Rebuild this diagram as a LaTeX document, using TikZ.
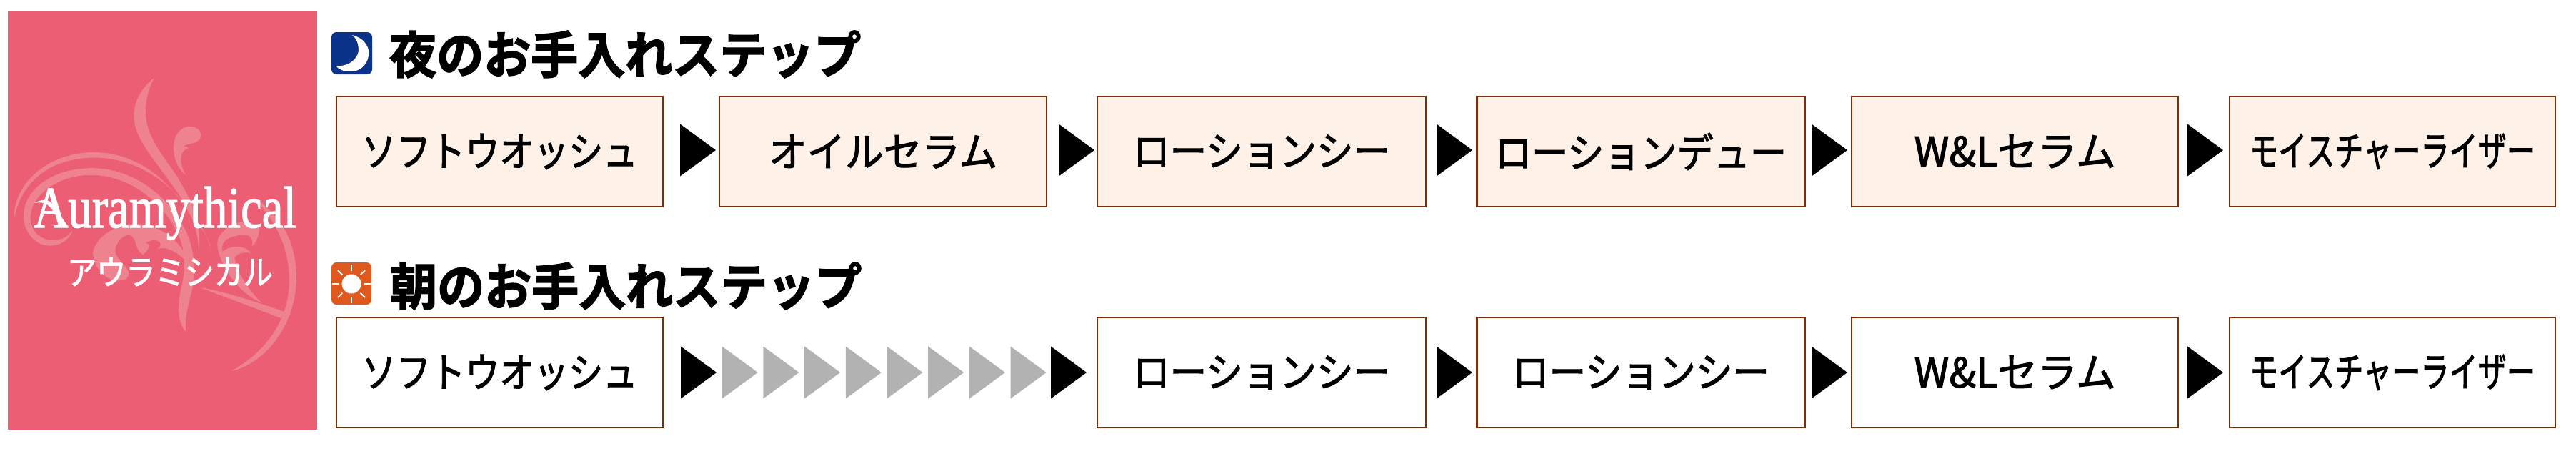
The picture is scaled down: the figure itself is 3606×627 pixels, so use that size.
\documentclass[tikz,border=0pt]{standalone}
\usepackage{fontspec}
\setmainfont{Liberation Serif}
\newfontfamily\cjk[FakeBold=2]{Noto Sans CJK JP}
\newfontfamily\cjkh[FakeBold=2.4]{Noto Sans CJK JP Bold}
\newfontfamily\cjkm[FakeBold=2]{Noto Sans CJK JP}
\newfontfamily\logofont[FakeBold=1.6]{Liberation Serif}
\definecolor{pinkbg}{HTML}{EB5E74}
\definecolor{pinklt}{HTML}{EE828F}
\definecolor{edgec}{HTML}{7A2E0A}
\definecolor{cream}{HTML}{FDF1E8}
\definecolor{moonc}{HTML}{0B3289}
\definecolor{sunc}{HTML}{DF581E}
\definecolor{grayar}{HTML}{B2B2B2}
\newcommand{\wtext}[2]{\resizebox{#1pt}{\height}{\cjkm\fontsize{57pt}{57pt}\selectfont #2}}
\newcommand{\arrowtri}[3]{\fill[#3] (#1,#2-36.5) -- (#1+50,#2) -- (#1,#2+36.5) -- cycle;}
\tikzset{
  stepbox/.style={draw=edgec,line width=2.6pt,rectangle,inner sep=0pt,minimum height=154pt,text=black},
  nightbox/.style={stepbox,fill=cream},
  daybox/.style={stepbox,fill=white},
  heading/.style={inner sep=0pt,text=black},
  flourish/.style={fill=pinklt,draw=none}
}
\begin{document}
\begin{tikzpicture}[x=1pt,y=-1pt]
\useasboundingbox (0,0) rectangle (3606,627);
\fill[white] (0,0) rectangle (3606,627);
% panel
\fill[pinkbg] (11,16) rectangle (444,601);
\begin{scope}[xscale=0.33333,yscale=0.4]
\fill[flourish] (650,270) .. controls (590,310) and (560,360) .. (562,410) .. controls (565,480) and (640,550) .. (700,620) .. controls (770,700) and (830,770) .. (835,875) .. controls (850,780) and (800,690) .. (730,600) .. controls (670,530) and (615,470) .. (612,400) .. controls (610,350) and (625,305) .. (650,270) -- cycle;
\fill[flourish] (780,612) .. controls (745,590) and (725,550) .. (730,505) .. controls (735,460) and (770,440) .. (805,442) .. controls (835,445) and (855,470) .. (838,488) .. controls (820,505) and (790,500) .. (770,512) .. controls (785,512) and (795,515) .. (790,518) .. controls (760,525) and (745,560) .. (780,612) -- cycle;
\fill[flourish] (60,762) .. controls (55,660) and (170,545) .. (370,533) .. controls (560,525) and (700,620) .. (790,740) .. controls (850,800) and (880,830) .. (885,875) .. controls (870,800) and (800,740) .. (740,680) .. controls (640,590) and (500,545) .. (370,552) .. controls (200,560) and (90,640) .. (60,762) -- cycle;
\fill[flourish] (305,805) .. controls (280,870) and (150,890) .. (105,790) .. controls (70,690) and (190,590) .. (380,588) .. controls (540,585) and (690,670) .. (770,790) .. controls (810,850) and (825,930) .. (810,1000) .. controls (795,1060) and (775,1100) .. (780,1158) .. controls (745,1130) and (745,1070) .. (760,1010) .. controls (785,930) and (780,860) .. (730,790) .. controls (650,680) and (520,612) .. (380,612) .. controls (240,612) and (110,690) .. (130,780) .. controls (150,850) and (260,860) .. (305,805) -- cycle;
\fill[flourish] (390,885) .. controls (400,830) and (480,785) .. (570,782) .. controls (680,785) and (770,850) .. (800,930) .. controls (750,880) and (700,860) .. (660,870) .. controls (700,850) and (650,825) .. (610,850) .. controls (640,850) and (620,880) .. (600,890) .. controls (560,870) and (580,830) .. (540,820) .. controls (490,830) and (470,880) .. (495,900) .. controls (520,930) and (560,950) .. (530,975) .. controls (470,1000) and (395,950) .. (390,885) -- cycle;
\fill[flourish] (1060,690) .. controls (1170,740) and (1245,840) .. (1245,970) .. controls (1245,1130) and (1120,1270) .. (970,1298) .. controls (1100,1240) and (1215,1130) .. (1215,980) .. controls (1215,860) and (1150,760) .. (1060,690) -- cycle;
\fill[flourish] (840,1005) .. controls (950,1020) and (1090,1060) .. (1195,1090) -- (1180,1113) .. controls (1080,1080) and (950,1040) .. (840,1005) -- cycle;
\fill[flourish] (915,835) .. controls (950,780) and (1040,755) .. (1090,800) .. controls (1085,830) and (1075,850) .. (1058,860) .. controls (1070,820) and (1030,815) .. (990,825) .. controls (950,830) and (925,850) .. (935,880) .. controls (960,860) and (1020,850) .. (1055,885) .. controls (1020,880) and (1000,885) .. (985,900) .. controls (1000,960) and (1040,1010) .. (1100,1060) .. controls (1020,1030) and (960,970) .. (930,910) .. controls (915,880) and (910,860) .. (915,835) -- cycle;
\end{scope}
\node[inner sep=0pt,anchor=base,text=white] (logo) at (231,318) {\resizebox{368pt}{\height}{\logofont\fontsize{82pt}{82pt}\selectfont Auramythical}};
\fill[white] (48,284) .. controls (60,278) and (68,278) .. (74,286) -- (96,318) -- (90,318) -- (72,292) .. controls (66,284) and (58,282) .. (48,284) -- cycle;
\node[inner sep=0pt,text=white] (kana) at (238,380) {\resizebox{288pt}{\height}{\cjk\fontsize{48pt}{48pt}\selectfont アウラミシカル}};
% icons
\fill[moonc,rounded corners=7pt] (464,45) rectangle (521,104);
\fill[white] (493,49) .. controls (512,54) and (518,68) .. (516,78) .. controls (514,92) and (502,101) .. (490,100) .. controls (481,100) and (474,97) .. (470,92) .. controls (490,94) and (503,80) .. (502,68) .. controls (501,58) and (498,53) .. (493,49) -- cycle;
\fill[sunc,rounded corners=7pt] (464,367) rectangle (520,426);
\fill[white] (492,397) circle (13.5pt);
\foreach \a in {0,45,...,315}{\draw[white,line width=2pt] (492,397)+(\a:18) -- +(\a:27);}
% headings
\node[heading,anchor=west] (h1) at (545,76) {\resizebox{660pt}{\height}{\cjkh\fontsize{70pt}{70pt}\selectfont 夜のお手入れステップ}};
\node[heading,anchor=west] (h2) at (546,400) {\resizebox{660pt}{\height}{\cjkh\fontsize{70pt}{70pt}\selectfont 朝のお手入れステップ}};
% row 1
\node[nightbox,minimum width=457pt] (n1) at (699.5,212) {\wtext{386}{ソフトウオッシュ}};
\node[nightbox,minimum width=458pt] (n2) at (1236,212) {\wtext{320}{オイルセラム}};
\node[nightbox,minimum width=460pt] (n3) at (1766,212) {\wtext{360}{ローションシー}};
\node[nightbox,minimum width=459pt] (n4) at (2297,212) {\wtext{408}{ローションデュー}};
\node[nightbox,minimum width=457pt] (n5) at (2820.5,212) {\wtext{282}{W\&Lセラム}};
\node[nightbox,minimum width=456pt] (n6) at (3349,212) {\wtext{400}{モイスチャーライザー}};
\arrowtri{952}{210}{black}
\arrowtri{1482}{210}{black}
\arrowtri{2011}{210}{black}
\arrowtri{2536}{210}{black}
\arrowtri{3062}{210}{black}
% row 2
\node[daybox,minimum width=457pt] (d1) at (699.5,521) {\wtext{386}{ソフトウオッシュ}};
\node[daybox,minimum width=460pt] (d3) at (1766,521) {\wtext{360}{ローションシー}};
\node[daybox,minimum width=459pt] (d4) at (2297,521) {\wtext{360}{ローションシー}};
\node[daybox,minimum width=457pt] (d5) at (2820.5,521) {\wtext{282}{W\&Lセラム}};
\node[daybox,minimum width=456pt] (d6) at (3349,521) {\wtext{400}{モイスチャーライザー}};
\arrowtri{953}{521}{black}
\foreach \i in {1,...,8}{\arrowtri{953+57.7*\i}{521}{grayar}}
\arrowtri{1471}{521}{black}
\arrowtri{2011}{521}{black}
\arrowtri{2536}{521}{black}
\arrowtri{3062}{521}{black}
\end{tikzpicture}
\end{document}
